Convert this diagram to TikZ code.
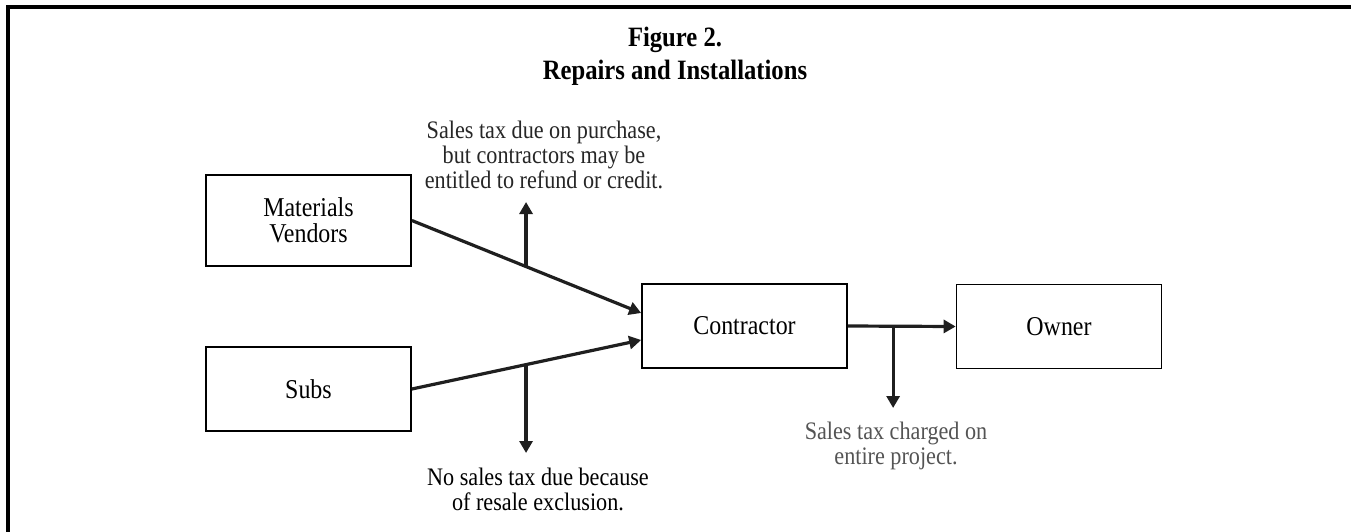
\documentclass[tikz,border=0pt]{standalone}
\usepackage{fontspec}
\setmainfont{Liberation Serif}[FakeStretch=0.88]
\usetikzlibrary{arrows.meta}

\begin{document}
\begin{tikzpicture}[x=0.5pt,y=-0.5pt,
  box/.style={draw,line width=0.85pt,minimum width=102.5pt,minimum height=42pt,inner sep=0pt,align=center,font=\fontsize{13.6}{13}\selectfont},
  flow/.style={line width=1.6pt,draw=black!88,-{Triangle[length=6pt,width=6.5pt]}},
  note/.style={align=center,inner sep=0pt,font=\fontsize{12.6}{12.5}\selectfont}]
\useasboundingbox (0,0) rectangle (1351,531);
% frame, open at right and bottom
\draw[line width=1.75pt] (8,545) -- (8,7) -- (1365,7);
\node[align=center,font=\bfseries\fontsize{14}{16.5}\selectfont] (title) at (675,56) {Figure 2.\\Repairs and Installations};
% boxes
\node[box,minimum height=45.5pt] (mat) at (308.5,220.5) {Materials\\Vendors};
\node[box] (subs) at (308.5,389) {Subs};
\node[box] (con) at (744.5,326) {Contractor};
\node[box] (own) at (1059,326.5) {Owner};
% flows
\draw[flow] (mat.east) -- coordinate[pos=0.498] (b1) ([yshift=6.5pt]con.west);
\draw[flow] (subs.east) -- coordinate[pos=0.498] (b2) ([yshift=-7pt]con.west);
\draw[flow] (con.east) -- coordinate[pos=0.42] (b3) (own.west);
% tax notes
\coordinate (t1) at (526,202);
\coordinate (t2) at (526,453);
\coordinate (t3) at (893,408);
\draw[flow] (b1) -- (b1 |- t1);
\draw[flow] (b2) -- (b2 |- t2);
\draw[flow] (b3) -- (b3 |- t3);
\node[note,text=black!85] (n1) at (544,155) {Sales tax due on purchase,\\but contractors may be\\entitled to refund or credit.};
\node[note] (n2) at (538,489.5) {No sales tax due because\\of resale exclusion.};
\node[note,text=black!67] (n3) at (896,445.5) {Sales tax charged on\\entire project.};
\end{tikzpicture}
\end{document}
